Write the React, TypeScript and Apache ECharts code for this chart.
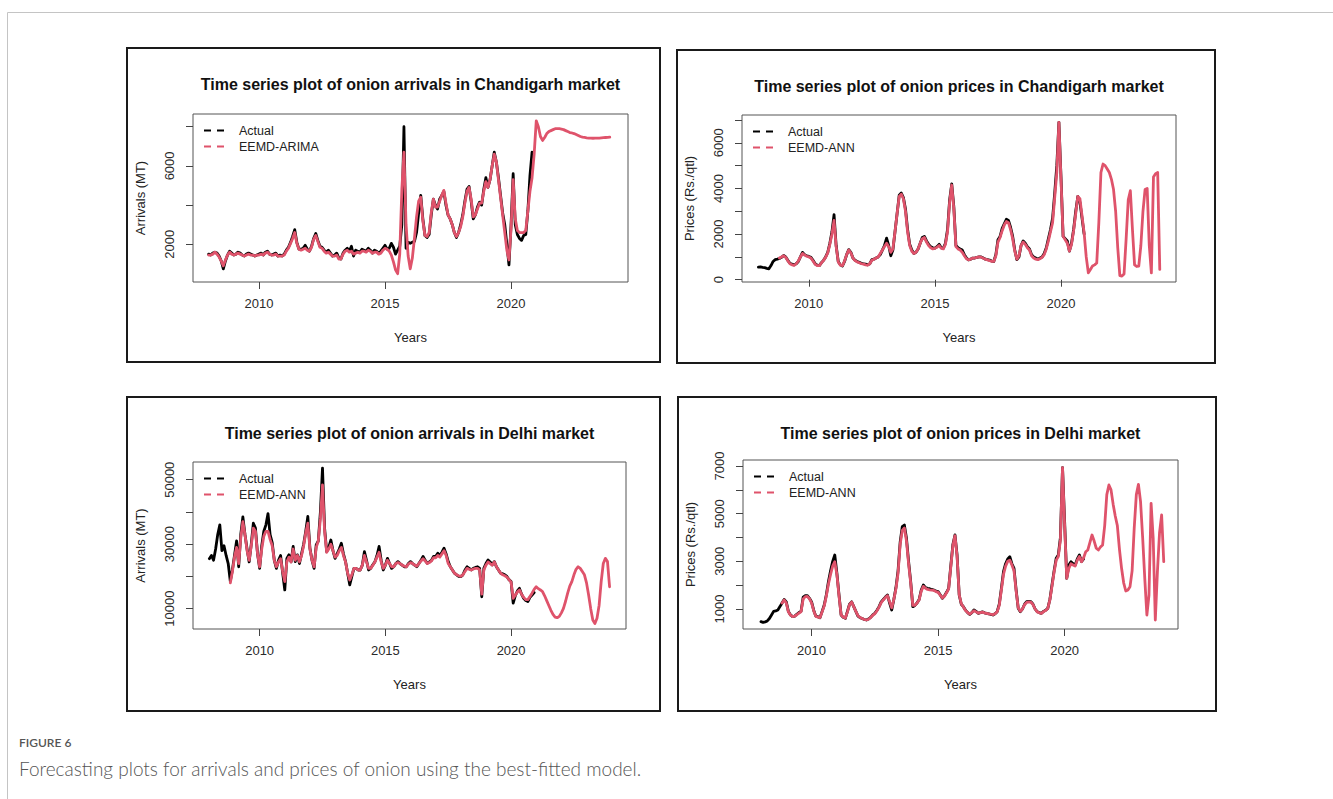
import React, { useEffect, useRef } from "react";
import * as echarts from "echarts";

const FONT = "'Liberation Sans', Arial, Helvetica, sans-serif";
const CAPTION_FONT = "Lato, 'Open Sans', sans-serif";
const ACTUAL_COLOR = "#000000";
const MODEL_COLOR = "#DF536B";

// All series are monthly; the observed series start in January 2008,
// the model series in January 2008 (Chandigarh arrivals) or November 2008.
const ACTUAL_START = 2008;
const MODEL_START_FULL = 2008;
const MODEL_START_LATE = 2008 + 10 / 12;

const YEAR_TICKS = [2010, 2015, 2020];

// ---- Chandigarh arrivals (MT) ----
const chdArrivalsActual = [
  1500, 1450, 1550, 1600, 1550, 1400, 1150, 750, 1150, 1450, 1650, 1550,
  1450, 1500, 1600, 1550, 1450, 1400, 1500, 1550, 1500, 1450, 1400, 1450,
  1500, 1550, 1450, 1600, 1650, 1500, 1450, 1500, 1550, 1400, 1450, 1400,
  1500, 1700, 1850, 2100, 2400, 2750, 2100, 1750, 1750, 1800, 1950, 1750,
  1650, 1900, 2300, 2550, 2200, 1900, 1850, 1700, 1600, 1700, 1550, 1400,
  1450, 1550, 1300, 1250, 1550, 1700, 1800, 1650, 1900, 1400, 1700, 1650,
  1600, 1750, 1700, 1650, 1800, 1700, 1550, 1700, 1650, 1550, 1650, 1800,
  1950, 1750, 1800, 2050, 1850, 1500, 1700, 1900, 3000, 8000, 1800, 2100,
  2050, 2100, 2150, 2600, 3600, 4500, 3300, 2450, 2350, 2500, 3500, 4300,
  4000, 3800, 4300, 4500, 4700, 4000, 3500, 3300, 3000, 2600, 2350, 2600,
  3000, 3500, 4200, 4800, 4950, 4200, 3300, 3500, 3900, 4150, 4000, 4800,
  5400, 4900, 5300, 6000, 6700, 6200, 5400, 4500, 3600, 3000, 2000, 950,
  3000, 5600, 3000, 2500, 2300, 2200, 2450, 2500, 3700, 5500, 6700,
];
const chdArrivalsModel = [
  1450, 1450, 1500, 1600, 1500, 1350, 1150, 900, 1200, 1450, 1600, 1500,
  1450, 1500, 1550, 1500, 1450, 1400, 1450, 1500, 1450, 1450, 1400, 1450,
  1450, 1500, 1450, 1550, 1600, 1500, 1450, 1450, 1500, 1400, 1400, 1400,
  1450, 1650, 1800, 2050, 2300, 2600, 2050, 1750, 1700, 1750, 1800, 1700,
  1650, 1850, 2250, 2450, 2150, 1850, 1800, 1650, 1550, 1600, 1500, 1400,
  1400, 1450, 1250, 1250, 1500, 1650, 1700, 1600, 1650, 1500, 1550, 1600,
  1550, 1650, 1650, 1600, 1700, 1650, 1550, 1600, 1600, 1500, 1550, 1700,
  1800, 1750, 1650, 1450, 1100, 700, 500, 1500, 4800, 6700, 3000, 1400,
  750, 1300, 2300, 3400, 4200, 4400, 3200, 2450, 2400, 2600, 3600, 4300,
  3900, 3900, 4200, 4500, 4750, 4100, 3500, 3300, 3000, 2600, 2400, 2600,
  2900, 3400, 4100, 4700, 4900, 4300, 3400, 3500, 3800, 4100, 4100, 4700,
  5200, 4900, 5300, 6000, 6600, 6200, 5300, 4400, 3500, 2600, 1700, 1200,
  2800, 5300, 3300, 2700, 2600, 2600, 2600, 2700, 3700, 4700, 5400, 6600,
  8300, 8000, 7500, 7300, 7450, 7650, 7750, 7800, 7850, 7900, 7900, 7900,
  7880, 7850, 7800, 7750, 7700, 7680, 7650, 7600, 7550, 7500, 7470, 7450,
  7430, 7420, 7420, 7410, 7420, 7420, 7420, 7430, 7440, 7450, 7460, 7470,
];

// ---- Chandigarh prices (Rs./qtl) ----
const chdPricesActual = [
  550, 560, 540, 530, 500, 480, 620, 800, 880, 900, 930, 980,
  1060, 1000, 850, 720, 680, 650, 700, 800, 1000, 1200, 1100, 1050,
  1020, 980, 850, 700, 640, 620, 750, 850, 1000, 1200, 1600, 2100,
  2850, 1500, 800, 650, 600, 800, 1100, 1320, 1200, 950, 850, 800,
  760, 720, 700, 680, 650, 700, 880, 900, 950, 1000, 1100, 1300,
  1500, 1820, 1500, 1050, 1300, 2100, 2900, 3700, 3800, 3600, 3100, 2200,
  1550, 1300, 1150, 1200, 1350, 1600, 1850, 1900, 1700, 1550, 1450, 1400,
  1380, 1450, 1550, 1400, 1380, 1600, 2200, 3500, 4200, 3200, 1500, 1400,
  1350, 1300, 1100, 950, 870, 900, 950, 950, 980, 1000, 1000, 950,
  900, 880, 860, 820, 800, 1100, 1750, 1900, 2250, 2450, 2650, 2600,
  2300, 1900, 1300, 880, 1000, 1500, 1700, 1600, 1450, 1350, 1100, 1000,
  950, 900, 950, 1000, 1150, 1400, 1800, 2200, 2700, 3800, 5000, 6900,
  4500, 1900, 1800, 1700, 1250, 1600, 2200, 3000, 3650, 3400, 2700, 2000,
];
const chdPricesModel = [
  950, 1000,
  1050, 980, 830, 700, 650, 630, 700, 820, 1000, 1150, 1080, 1030,
  1000, 950, 820, 680, 620, 620, 740, 850, 980, 1180, 1550, 2000,
  2600, 1450, 780, 640, 620, 820, 1100, 1300, 1180, 950, 840, 780,
  740, 700, 680, 650, 640, 700, 850, 900, 950, 1000, 1150, 1300,
  1450, 1600, 1450, 1200, 1350, 2100, 2900, 3650, 3750, 3550, 3000, 2100,
  1500, 1250, 1150, 1200, 1350, 1600, 1800, 1850, 1650, 1500, 1400, 1350,
  1380, 1420, 1500, 1380, 1350, 1550, 2100, 3400, 4150, 3100, 1450, 1350,
  1300, 1200, 1050, 920, 870, 900, 950, 950, 980, 1000, 990, 940,
  900, 870, 840, 800, 800, 1050, 1650, 1850, 2150, 2400, 2550, 2500,
  2200, 1800, 1250, 900, 1050, 1500, 1650, 1550, 1400, 1300, 1050, 950,
  900, 880, 920, 980, 1100, 1350, 1700, 2100, 2500, 3600, 4700, 6900,
  4400, 1900, 1750, 1600, 1250, 1550, 2150, 2900, 3650, 3550, 2800, 2050,
  1000, 300, 450, 600, 650, 730, 2500, 4700, 5070, 5000, 4850, 4700,
  4400, 3950, 3000, 1400, 180, 160, 250, 1800, 3500, 3900, 2200, 650,
  580, 600, 1500, 3000, 3950, 4000, 1500, 300, 4500, 4650, 4700, 450,
];

// ---- Delhi arrivals (MT) ----
const delArrivalsActual = [
  25500, 26500, 25000, 28500, 33000, 36000, 28000, 29500, 26500, 24000, 18500, 22000,
  26500, 31000, 23000, 33000, 38500, 33000, 28500, 24500, 30000, 36500, 35000, 27000,
  22500, 29500, 34000, 36000, 39500, 33000, 30500, 25000, 22500, 25000, 26500, 21000,
  15800, 25600, 26700, 24500, 29300, 24600, 26700, 24000, 27000, 30000, 34000, 38600,
  28750, 25000, 22500, 29800, 31000, 40000, 53600, 35000, 27700, 29000, 31300, 28000,
  25600, 27000, 28500, 30300, 27000, 24600, 21000, 17400, 20000, 22500, 22500, 22000,
  22000, 23500, 27700, 25000, 22000, 22500, 23600, 24500, 26500, 29300, 25000, 22000,
  23500, 25600, 24000, 22500, 23000, 24000, 24600, 24000, 23500, 23000, 23000, 24000,
  24600, 24000, 23500, 23000, 24000, 25000, 26200, 25000, 24100, 24500, 25000, 26200,
  26200, 27200, 26500, 27500, 28750, 27000, 24600, 23000, 22000, 21000, 20500, 20000,
  19950, 20500, 22000, 23000, 22500, 22000, 22500, 22800, 23000, 22500, 13700, 22500,
  24000, 25100, 24500, 23600, 24600, 23000, 22000, 21000, 20800, 20500, 20000, 19000,
  18400, 11700, 14000, 15500, 16300, 14500, 13200, 12500, 12200, 13500, 14250, 15000,
];
const delArrivalsModel = [
  18000, 21500,
  26000, 29000, 24000, 32000, 37000, 33000, 28000, 25000, 29500, 35000, 34000, 27000,
  23000, 28500, 32500, 34000, 34000, 31500, 29500, 25000, 23000, 24500, 25500, 21500,
  18400, 24500, 26000, 24500, 28500, 25000, 26500, 24500, 26500, 29500, 33500, 36500,
  28500, 25000, 23000, 29000, 31000, 38000, 48400, 34000, 27500, 28500, 30000, 28000,
  26000, 26500, 28000, 29000, 26500, 24500, 21000, 18900, 20500, 22500, 22500, 22000,
  22000, 23500, 26500, 24500, 22500, 22500, 23500, 24500, 26000, 27500, 24500, 22500,
  23500, 25000, 24000, 23000, 23000, 24000, 24300, 24000, 23500, 23200, 23000, 23800,
  24300, 24000, 23500, 23200, 24000, 24800, 25500, 24800, 24000, 24300, 24800, 25800,
  25800, 26500, 26000, 27000, 28000, 26500, 24000, 23000, 22000, 21000, 20500, 20200,
  20000, 20500, 21500, 22500, 22200, 22000, 22300, 22500, 22500, 22000, 14500, 22000,
  23500, 24500, 24000, 23500, 24500, 23000, 22000, 21000, 20500, 20200, 19800, 19000,
  18200, 13200, 14200, 15200, 15800, 14500, 13500, 12800, 12800, 13800, 14800, 16000,
  16800, 16200, 15800, 15300, 14000, 12500, 11000, 9500, 8200, 7400, 7200, 7600,
  8700, 10100, 12300, 14800, 17000, 18400, 20500, 22200, 23000, 22500, 21500, 20500,
  18000, 14250, 10000, 6500, 5400, 7000, 11000, 18400, 24000, 25600, 24600, 16800,
];

// ---- Delhi prices (Rs./qtl) ----
const delPricesActual = [
  470, 440, 460, 500, 600, 750, 900, 920, 960, 1100, 1250, 1400,
  1300, 900, 750, 680, 700, 780, 850, 900, 1500, 1560, 1560, 1450,
  1300, 950, 700, 680, 636, 900, 1170, 1600, 2150, 2600, 3000, 3266,
  2500, 1600, 750, 650, 610, 900, 1200, 1300, 1100, 900, 700, 636,
  600, 560, 538, 580, 650, 750, 818, 950, 1100, 1300, 1400, 1500,
  1588, 1250, 958, 1400, 1900, 2600, 3800, 4455, 4525, 3966, 3000, 2147,
  1098, 1150, 1250, 1400, 1800, 2007, 1900, 1867, 1850, 1820, 1797, 1750,
  1728, 1600, 1448, 1550, 1700, 1867, 2800, 3700, 4106, 3266, 1588, 1200,
  1098, 950, 850, 776, 850, 958, 900, 818, 850, 880, 840, 818,
  800, 770, 748, 800, 888, 1200, 1867, 2567, 2900, 3100, 3196, 2900,
  2707, 1800, 1028, 888, 1000, 1200, 1308, 1320, 1308, 1200, 1000, 888,
  850, 818, 900, 950, 1028, 1400, 2007, 2600, 3126, 3266, 4000, 6932,
  4666, 2287, 2847, 2987, 2900, 2847, 3100, 3266, 2987, 3100,
];
const delPricesModel = [
  1250, 1380,
  1250, 880, 740, 680, 700, 760, 830, 880, 1420, 1520, 1530, 1430,
  1260, 930, 700, 660, 640, 880, 1130, 1550, 2050, 2450, 2800, 2986,
  2450, 1550, 760, 660, 620, 880, 1180, 1290, 1100, 900, 720, 640,
  600, 560, 540, 570, 640, 740, 800, 930, 1080, 1270, 1380, 1480,
  1560, 1300, 1050, 1400, 1850, 2500, 3700, 4300, 4400, 3850, 2900, 2100,
  1150, 1150, 1250, 1380, 1750, 1950, 1870, 1820, 1800, 1790, 1780, 1730,
  1700, 1580, 1460, 1540, 1680, 1850, 2750, 3650, 4080, 3200, 1600, 1220,
  1080, 940, 850, 790, 850, 930, 880, 830, 850, 870, 840, 820,
  800, 780, 760, 800, 880, 1150, 1800, 2450, 2800, 3000, 3050, 2850,
  2600, 1750, 1050, 900, 1000, 1180, 1280, 1300, 1290, 1180, 1000, 880,
  840, 820, 890, 940, 1020, 1380, 1950, 2550, 3050, 3200, 3900, 6932,
  4500, 2287, 2700, 2900, 2850, 2800, 3050, 3200, 2980, 3150, 3400, 3476,
  3800, 4106, 3850, 3550, 3476, 3600, 3686, 4500, 5800, 6204, 6000, 5400,
  4900, 4500, 3500, 2707, 2100, 1755, 1800, 1937, 2600, 4400, 5800, 6232,
  5504, 4000, 2287, 748, 1588, 5434, 3966, 538, 2567, 4200, 4945, 2987,
];

// Tick values on each value axis, and the subset that carries a label
const chdArrivalsTicks = [2000, 4000, 6000, 8000];
const chdArrivalsLabels = [2000, 6000];
const chdPricesTicks = [0, 1000, 2000, 3000, 4000, 5000, 6000, 7000];
const chdPricesLabels = [0, 2000, 4000, 6000];
const delArrivalsTicks = [10000, 20000, 30000, 40000, 50000];
const delArrivalsLabels = [10000, 30000, 50000];
const delPricesTicks = [1000, 2000, 3000, 4000, 5000, 6000, 7000];
const delPricesLabels = [1000, 3000, 5000, 7000];

const monthly = (start: number, values: number[]) =>
  values.map((v, i) => [start + i / 12, v]);

type Panel = {
  title: string;
  yTitle: string;
  model: string;
  box: [number, number, number, number];
  grid: [number, number, number, number];
  xRange: [number, number];
  yRange: [number, number];
  yTicks: number[];
  yLabels: number[];
  actual: number[][];
  fitted: number[][];
};

const panels: Panel[] = [
  {
    title: "Time series plot of onion arrivals in Chandigarh market",
    yTitle: "Arrivals (MT)",
    model: "EEMD-ARIMA",
    box: [127, 48, 533, 314],
    grid: [193, 114, 435, 168],
    xRange: [2007.38, 2024.64],
    yRange: [77, 8648],
    yTicks: chdArrivalsTicks,
    yLabels: chdArrivalsLabels,
    actual: monthly(ACTUAL_START, chdArrivalsActual),
    fitted: monthly(MODEL_START_FULL, chdArrivalsModel),
  },
  {
    title: "Time series plot of onion prices in Chandigarh market",
    yTitle: "Prices (Rs./qtl)",
    model: "EEMD-ANN",
    box: [677, 50, 538, 313],
    grid: [742, 115, 434, 167],
    xRange: [2007.35, 2024.56],
    yRange: [-100, 7219],
    yTicks: chdPricesTicks,
    yLabels: chdPricesLabels,
    actual: monthly(ACTUAL_START, chdPricesActual),
    fitted: monthly(MODEL_START_LATE, chdPricesModel),
  },
  {
    title: "Time series plot of onion arrivals in Delhi market",
    yTitle: "Arrivals (MT)",
    model: "EEMD-ANN",
    box: [127, 397, 533, 314],
    grid: [193, 462, 433, 167],
    xRange: [2007.35, 2024.57],
    yRange: [3690, 55500],
    yTicks: delArrivalsTicks,
    yLabels: delArrivalsLabels,
    actual: monthly(ACTUAL_START, delArrivalsActual),
    fitted: monthly(MODEL_START_LATE, delArrivalsModel),
  },
  {
    title: "Time series plot of onion prices in Delhi market",
    yTitle: "Prices (Rs./qtl)",
    model: "EEMD-ANN",
    box: [678, 397, 538, 314],
    grid: [743, 460, 435, 169],
    xRange: [2007.29, 2024.48],
    yRange: [161, 7252],
    yTicks: delPricesTicks,
    yLabels: delPricesLabels,
    actual: monthly(ACTUAL_START, delPricesActual),
    fitted: monthly(MODEL_START_LATE, delPricesModel),
  },
];

function buildOption() {
  const axisText = { color: "#2a2a2a", fontSize: 13, fontFamily: FONT };
  const grids = panels.map((p) => ({
    left: p.grid[0],
    top: p.grid[1],
    width: p.grid[2],
    height: p.grid[3],
    show: true,
    borderColor: "#555",
    borderWidth: 1,
    containLabel: false,
  }));
  const xAxes = panels.map((p, i) => ({
    type: "value",
    gridIndex: i,
    min: p.xRange[0],
    max: p.xRange[1],
    splitLine: { show: false },
    axisLine: { show: false },
    axisTick: { show: true, inside: false, length: 7, customValues: YEAR_TICKS, lineStyle: { color: "#444" } },
    axisLabel: { ...axisText, margin: 15, customValues: YEAR_TICKS, formatter: (v: number) => String(v) },
  }));
  const yAxes = panels.map((p, i) => ({
    type: "value",
    gridIndex: i,
    min: p.yRange[0],
    max: p.yRange[1],
    splitLine: { show: false },
    axisLine: { show: false },
    axisTick: { show: true, inside: false, length: 7, customValues: p.yTicks, lineStyle: { color: "#444" } },
    axisLabel: { ...axisText, rotate: 90, margin: 17, customValues: p.yLabels, formatter: (v: number) => String(v) },
  }));
  const series: any[] = [];
  panels.forEach((p, i) => {
    series.push({
      type: "line",
      name: "Actual",
      xAxisIndex: i,
      yAxisIndex: i,
      data: p.actual,
      showSymbol: false,
      symbol: "none",
      color: ACTUAL_COLOR,
      lineStyle: { color: ACTUAL_COLOR, width: 2.8, cap: "round", join: "round" },
      z: 2,
    });
    series.push({
      type: "line",
      name: p.model,
      xAxisIndex: i,
      yAxisIndex: i,
      data: p.fitted,
      showSymbol: false,
      symbol: "none",
      color: MODEL_COLOR,
      lineStyle: { color: MODEL_COLOR, width: 2.8, cap: "round", join: "round" },
      z: 3,
    });
  });

  const graphics: any[] = [];
  // outer frame of the figure
  graphics.push({
    type: "rect",
    shape: { x: 7.5, y: 12.5, width: 1400, height: 900 },
    style: { fill: "none", stroke: "#c4c4c4", lineWidth: 1 },
    silent: true,
  });
  const txt = (
    text: string,
    x: number,
    y: number,
    font: string,
    fill: string,
    align = "center",
    rotation = 0
  ) => ({
    type: "text",
    x,
    y,
    rotation,
    silent: true,
    style: {
      text,
      x: 0,
      y: 0,
      font,
      fill,
      align,
      verticalAlign: "middle",
      textAlign: align,
      textVerticalAlign: "middle",
    },
  });
  panels.forEach((p) => {
    const [bx, by, bw, bh] = p.box;
    const [gx, gy, gw, gh] = p.grid;
    graphics.push({
      type: "rect",
      shape: { x: bx, y: by, width: bw, height: bh },
      style: { fill: "none", stroke: "#1a1a1a", lineWidth: 2 },
      silent: true,
    });
    const cx = gx + gw / 2;
    graphics.push(txt(p.title, cx, by + 36, `bold 16px ${FONT}`, "#111"));
    graphics.push(txt("Years", cx, gy + gh + 55, `13px ${FONT}`, "#222"));
    graphics.push(txt(p.yTitle, gx - 53, gy + gh / 2, `13px ${FONT}`, "#222", "center", Math.PI / 2));
    // legend
    const lx = gx + 11;
    const ly = gy + 16.5;
    const entries: [string, string][] = [
      ["Actual", ACTUAL_COLOR],
      [p.model, MODEL_COLOR],
    ];
    entries.forEach(([name, color], k) => {
      const yy = ly + k * 16;
      graphics.push({
        type: "line",
        silent: true,
        shape: { x1: lx, y1: yy, x2: lx + 20, y2: yy },
        style: { stroke: color, lineWidth: 2, lineDash: [7, 6] },
      });
      graphics.push(txt(name, lx + 35, yy, `12.5px ${FONT}`, "#222", "left"));
    });
  });
  graphics.push(txt("FIGURE 6", 19, 742, `600 12px ${CAPTION_FONT}`, "#555", "left"));
  graphics.push(
    txt(
      "Forecasting plots for arrivals and prices of onion using the best-fitted model.",
      19,
      768,
      `300 19px ${CAPTION_FONT}`,
      "#555",
      "left"
    )
  );

  return {
    animation: false,
    backgroundColor: "#ffffff",
    grid: grids,
    xAxis: xAxes,
    yAxis: yAxes,
    series,
    graphic: { elements: graphics },
  };
}

export default function App() {
  const ref = useRef<HTMLDivElement>(null);
  useEffect(() => {
    if (!ref.current) return;
    const chart = echarts.init(ref.current, undefined, { renderer: "svg" });
    chart.setOption(buildOption() as any);
    return () => chart.dispose();
  }, []);
  return (
    <div
      ref={ref}
      style={{ position: "absolute", left: 0, top: 0, width: 1333, height: 799, background: "#fff" }}
    />
  );
}
